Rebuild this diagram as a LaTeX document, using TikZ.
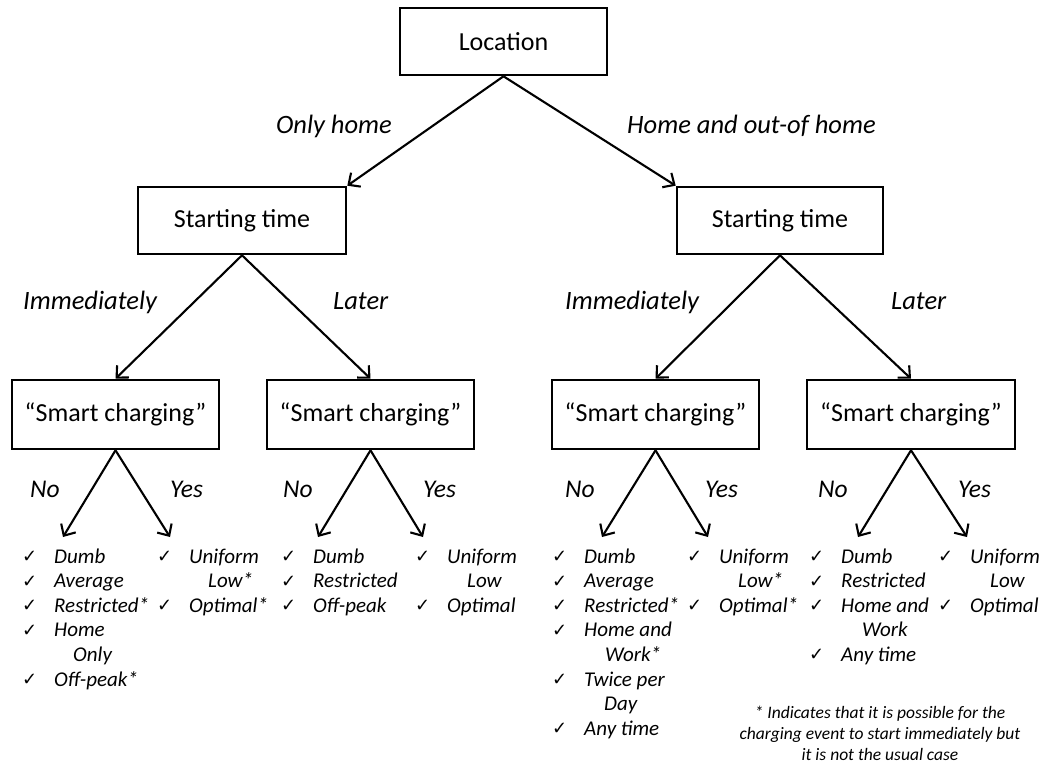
\documentclass[tikz,border=0pt]{standalone}
\usepackage{fontspec}
\setmainfont{Carlito}
\newfontfamily\ckfont{DejaVu Sans}
\usetikzlibrary{arrows.meta}

% check mark followed by the item text column
\newcommand\ck{\makebox[32pt][l]{\raisebox{0.5pt}{\ckfont\fontsize{18}{18}\selectfont ✓}}}
% continuation line of a wrapped item
\newcommand\cont[1]{\hspace*{#1}}

\begin{document}
\begin{tikzpicture}[x=1pt,y=-1pt,
  box/.style={draw, line width=2.6pt, minimum height=67pt, inner sep=0pt,
    font=\fontsize{26}{30}\selectfont},
  link/.style={line width=2.1pt, -{Straight Barb[length=9pt,width=17pt,line width=2.1pt]}},
  lbl/.style={anchor=base west, inner sep=0pt, font=\fontsize{26.5}{30}\selectfont\itshape},
  yn/.style={anchor=base west, inner sep=0pt, font=\fontsize{25.5}{28}\selectfont\itshape},
  opts/.style={anchor=base west, inner sep=0pt, font=\fontsize{21}{24.6}\selectfont\itshape},
  note/.style={anchor=base, inner sep=0pt, font=\fontsize{17.5}{21}\selectfont\itshape}]
\useasboundingbox (0,0) rectangle (1041,765);
\renewcommand\arraystretch{1}

% decision boxes
\node[box, minimum width=207pt] (loc) at (503.5,41.5) {Location};
\node[box, minimum width=208pt] (stL) at (242,220.5) {Starting time};
\node[box, minimum width=206pt] (stR) at (780,220.5) {Starting time};
\node[box, minimum width=207pt, minimum height=69pt] (sm1) at (115.5,414.5) {“Smart charging”};
\node[box, minimum width=207pt, minimum height=69pt] (sm2) at (370.5,414.5) {“Smart charging”};
\node[box, minimum width=207pt, minimum height=69pt] (sm3) at (655.5,414.5) {“Smart charging”};
\node[box, minimum width=208pt, minimum height=69pt] (sm4) at (911,414.5) {“Smart charging”};

% branches
\draw[link] (loc.south) -- (stL.north east);
\draw[link] (loc.south) -- (stR.north west);
\draw[link] (stL.south) -- (sm1.north);
\draw[link] (stL.south) -- (sm2.north);
\draw[link] (stR.south) -- (sm3.north);
\draw[link] (stR.south) -- (sm4.north);

\coordinate (e1n) at (63,537);  \coordinate (e1y) at (170,537);
\coordinate (e2n) at (318,537); \coordinate (e2y) at (423,537);
\coordinate (e3n) at (602,537); \coordinate (e3y) at (708,537);
\coordinate (e4n) at (858,537); \coordinate (e4y) at (967,537);
\draw[link] (sm1.south) -- (e1n);
\draw[link] (sm1.south) -- (e1y);
\draw[link] (sm2.south) -- (e2n);
\draw[link] (sm2.south) -- (e2y);
\draw[link] (sm3.south) -- (e3n);
\draw[link] (sm3.south) -- (e3y);
\draw[link] (sm4.south) -- (e4n);
\draw[link] (sm4.south) -- (e4y);

% branch labels
\node[lbl, anchor=base east] (lonly) at (392,134) {Only home};
\node[lbl] (lout) at (627,134) {Home and out-of home};
\node[lbl] (limL) at (23,309) {Immediately};
\node[lbl] (llaL) at (333,309) {Later};
\node[lbl] (limR) at (565,309) {Immediately};
\node[lbl] (llaR) at (891,309) {Later};

\node[yn] (no1) at (30,497) {No};   \node[yn] (ye1) at (170,497) {Yes};
\node[yn] (no2) at (283,497) {No};  \node[yn] (ye2) at (423,497) {Yes};
\node[yn] (no3) at (565,497) {No};  \node[yn] (ye3) at (705,497) {Yes};
\node[yn] (no4) at (818,497) {No};  \node[yn] (ye4) at (958,497) {Yes};

% charging strategies
\node[opts] (o1n) at (22,563) {\begin{tabular}[t]{@{}l@{}}
\ck Dumb\\ \ck Average\\ \ck Restricted*\\ \ck Home\\ \cont{51pt}Only\\ \ck Off-peak*
\end{tabular}};
\node[opts] (o1y) at (157,563) {\begin{tabular}[t]{@{}l@{}}
\ck Uniform\\ \cont{51pt}Low*\\ \ck Optimal*
\end{tabular}};
\node[opts] (o2n) at (281,563) {\begin{tabular}[t]{@{}l@{}}
\ck Dumb\\ \ck Restricted\\ \ck Off-peak
\end{tabular}};
\node[opts] (o2y) at (415,563) {\begin{tabular}[t]{@{}l@{}}
\ck Uniform\\ \cont{52pt}Low\\ \ck Optimal
\end{tabular}};
\node[opts] (o3n) at (552,563) {\begin{tabular}[t]{@{}l@{}}
\ck Dumb\\ \ck Average\\ \ck Restricted*\\ \ck Home and\\ \cont{53pt}Work*\\
\ck Twice per\\ \cont{52pt}Day\\ \ck Any time
\end{tabular}};
\node[opts] (o3y) at (687,563) {\begin{tabular}[t]{@{}l@{}}
\ck Uniform\\ \cont{51pt}Low*\\ \ck Optimal*
\end{tabular}};
\node[opts] (o4n) at (809,563) {\begin{tabular}[t]{@{}l@{}}
\ck Dumb\\ \ck Restricted\\ \ck Home and\\ \cont{53pt}Work\\ \ck Any time
\end{tabular}};
\node[opts] (o4y) at (938,563) {\begin{tabular}[t]{@{}l@{}}
\ck Uniform\\ \cont{52pt}Low\\ \ck Optimal
\end{tabular}};

% footnote
\node[note] (fn) at (880,718) {\begin{tabular}[t]{@{}c@{}}
* Indicates that it is possible for the\\
charging event to start immediately but\\
it is not the usual case
\end{tabular}};
\end{tikzpicture}
\end{document}
